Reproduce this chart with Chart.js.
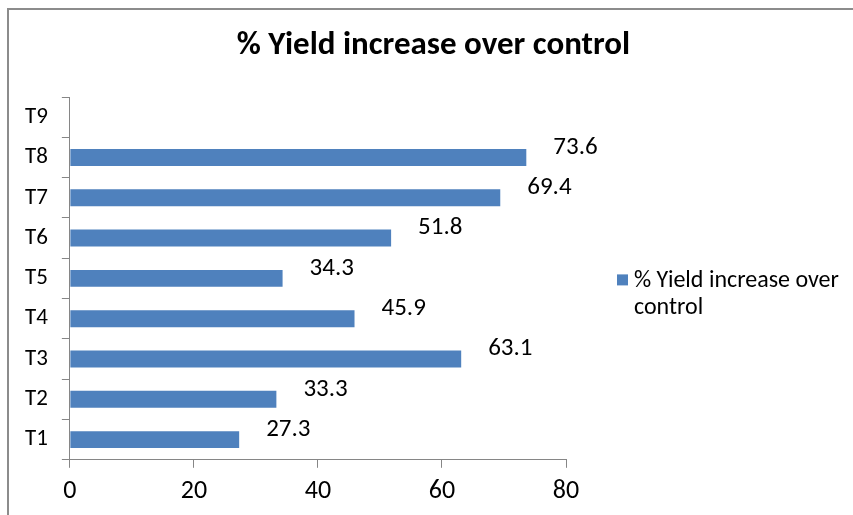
<!DOCTYPE html>
<html>
<head>
<meta charset="utf-8">
<script src="https://cdn.jsdelivr.net/npm/chart.js@4.4.1/dist/chart.umd.min.js"></script>
<style>
  html, body { margin: 0; padding: 0; background: #fff; }
  #wrap { width: 853px; height: 515px; }
</style>
</head>
<body>
<div id="wrap"><canvas id="chart"></canvas></div>
<script>
const categories = ['T1', 'T2', 'T3', 'T4', 'T5', 'T6', 'T7', 'T8', 'T9']
const yieldIncrease = [27.3, 33.3, 63.1, 45.9, 34.3, 51.8, 69.4, 73.6, null]
const xTicks = [0, 20, 40, 60, 80]
const seriesName = '% Yield increase over control'
const legendLines = ['% Yield increase over', 'control']

const FONT = 'Carlito, Calibri, Lato, "Liberation Sans", sans-serif'
const BLUE = '#4F81BD'
const AXIS = '#868686'

// outer frame of the chart object (clipped at right/bottom like the picture)
const framePlugin = {
  id: 'frame',
  beforeDraw(chart) {
    const ctx = chart.ctx
    ctx.save()
    ctx.fillStyle = '#fff'
    ctx.fillRect(0, 0, chart.width, chart.height)
    ctx.strokeStyle = '#8c8c8c'
    ctx.lineWidth = 2
    ctx.strokeRect(8, 9, chart.width + 20, chart.height + 20)
    ctx.restore()
  }
}

// title centred on the whole frame, not only the plot
const titlePlugin = {
  id: 'bigTitle',
  afterDraw(chart) {
    const ctx = chart.ctx
    ctx.save()
    ctx.font = 'bold 33px ' + FONT
    ctx.fillStyle = '#000'
    ctx.textAlign = 'center'
    ctx.textBaseline = 'middle'
    ctx.fillText(seriesName, chart.width / 2 + 7, 46)
    ctx.restore()
  }
}

// value labels, up and right of each bar end
const valueLabels = {
  id: 'valueLabels',
  afterDatasetsDraw(chart) {
    const ctx = chart.ctx
    const meta = chart.getDatasetMeta(0)
    ctx.save()
    ctx.font = '25px ' + FONT
    ctx.fillStyle = '#000'
    ctx.textBaseline = 'middle'
    ctx.textAlign = 'left'
    meta.data.forEach((bar, i) => {
      const v = chart.data.datasets[0].data[i]
      if (v == null) return
      ctx.fillText(v.toFixed(1), bar.x + 27, bar.y - 10)
    })
    ctx.restore()
  }
}

// legend on the right, text wrapped on two lines
const sideLegend = {
  id: 'sideLegend',
  afterDraw(chart) {
    const ctx = chart.ctx
    const area = chart.chartArea
    const x = area.right + 51
    const y = (area.top + area.bottom) / 2
    ctx.save()
    ctx.fillStyle = BLUE
    ctx.fillRect(x, y - 4, 11, 11)
    ctx.fillStyle = '#000'
    ctx.font = '24px ' + FONT
    ctx.textBaseline = 'middle'
    ctx.textAlign = 'left'
    legendLines.forEach((line, i) => {
      ctx.fillText(line, x + 17, y + 3 + i * 27)
    })
    ctx.restore()
  }
}

const chart = new Chart(document.getElementById('chart'), {
  type: 'bar',
  data: {
    labels: categories,
    datasets: [{
      label: seriesName,
      data: yieldIncrease,
      backgroundColor: BLUE,
      borderWidth: 0,
      barPercentage: 0.42,
      categoryPercentage: 1.0
    }]
  },
  options: {
    indexAxis: 'y',
    responsive: true,
    maintainAspectRatio: false,
    animation: false,
    layout: {
      padding: { left: 11, right: 287, top: 97, bottom: 0 }
    },
    plugins: {
      legend: { display: false },
      tooltip: { enabled: false },
      title: { display: false }
    },
    scales: {
      x: {
        min: 0,
        max: 80,
        afterBuildTicks: (scale) => {
          scale.ticks = xTicks.map(v => ({ value: v }))
        },
        grid: {
          drawOnChartArea: false,
          drawTicks: true,
          tickLength: 8,
          color: AXIS
        },
        border: { color: AXIS, width: 1 },
        ticks: {
          color: '#000',
          font: { family: FONT, size: 26 },
          padding: 8
        }
      },
      y: {
        reverse: true,
        grid: {
          drawOnChartArea: false,
          drawTicks: true,
          tickLength: 8,
          offset: true,
          color: AXIS
        },
        border: { color: AXIS, width: 1 },
        ticks: {
          color: '#000',
          font: { family: FONT, size: 23 },
          padding: 14
        }
      }
    }
  },
  plugins: [framePlugin, valueLabels, sideLegend, titlePlugin]
})
</script>
</body>
</html>
